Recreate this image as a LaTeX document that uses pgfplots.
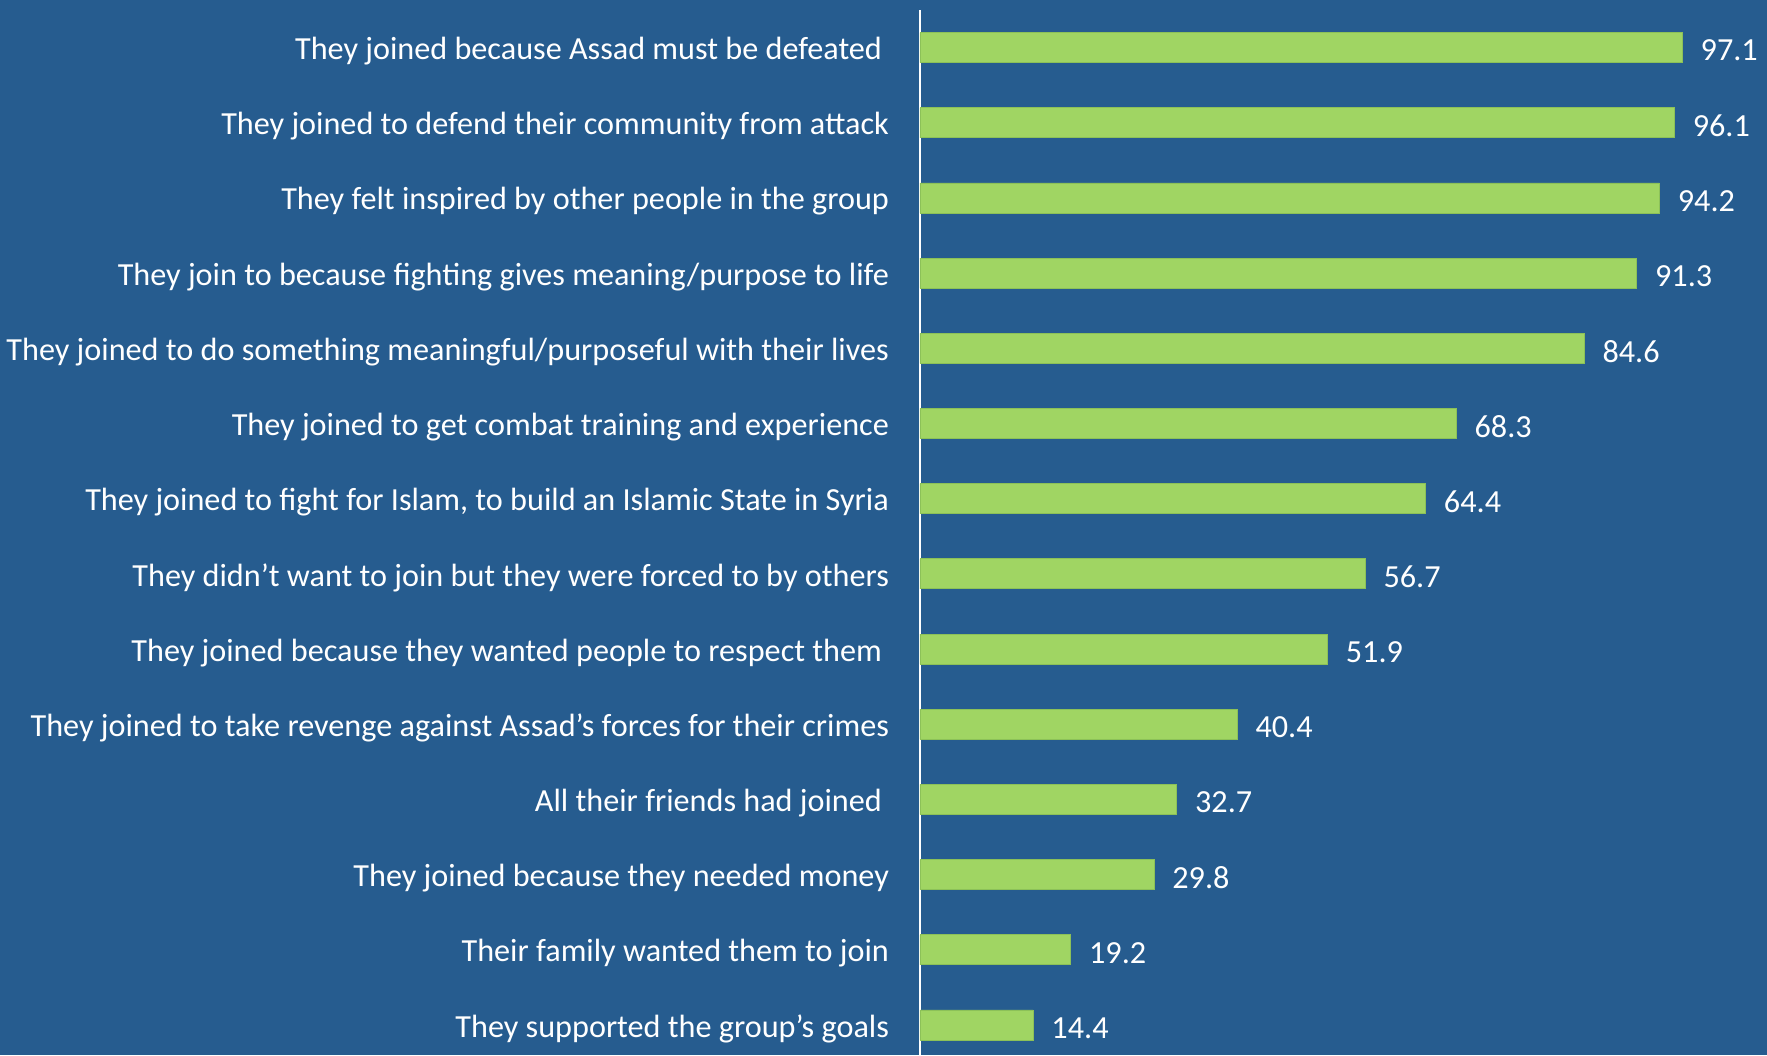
\documentclass[border=0pt]{standalone}
\usepackage{pgfplots}
\pgfplotsset{compat=1.18}
\usepackage{fontspec}
\setmainfont{Carlito}
\usetikzlibrary{backgrounds}
\definecolor{bg}{HTML}{265C8F}
\definecolor{barc}{HTML}{A0D563}
\definecolor{baredge}{HTML}{8CC158}
\begin{document}
\begin{tikzpicture}
\begin{axis}[
  name=ax,
  at={(0,0)}, anchor=south west,
  width=423.5pt, height=522.5pt, scale only axis,
  xbar, bar width=15pt,
  xmin=0, xmax=107.9,
  ymin=-0.5, ymax=13.4,
  y dir=reverse,
  axis x line=none,
  axis y line=left,
  y axis line style={white, line width=1.2pt, -},
  ytick={0,...,13},
  yticklabels={
    {They joined because Assad must be defeated\kern3.5pt},
    {They joined to defend their community from attack},
    {They felt inspired by other people in the group},
    {They join to because fighting gives meaning/purpose to life},
    {They joined to do something meaningful/purposeful with their lives},
    {They joined to get combat training and experience},
    {They joined to fight for Islam, to build an Islamic State in Syria},
    {They didn’t want to join but they were forced to by others},
    {They joined because they wanted people to respect them\kern3.5pt},
    {They joined to take revenge against Assad’s forces for their crimes},
    {All their friends had joined\kern3.5pt},
    {They joined because they needed money},
    {Their family wanted them to join},
    {They supported the group’s goals}},
  yticklabel style={text=white, font=\fontsize{16.1}{19}\selectfont, xshift=-12pt, yshift=-1.8pt},
  major tick length=0pt,
  /pgf/number format/assume math mode=true,
  nodes near coords,
  point meta=x,
  nodes near coords style={text=white, font=\fontsize{16.1}{19}\selectfont, anchor=west, xshift=5.7pt, yshift=-1.5pt,
    /pgf/number format/fixed, /pgf/number format/fixed zerofill, /pgf/number format/precision=1},
  clip=false,
]
\addplot[fill=barc, draw=baredge, line width=0.4pt] coordinates {
 (97.1,0) (96.1,1) (94.2,2) (91.3,3) (84.6,4) (68.3,5) (64.4,6)
 (56.7,7) (51.9,8) (40.4,9) (32.7,10) (29.8,11) (19.2,12) (14.4,13)};
\end{axis}
\begin{scope}[on background layer]
\fill[bg] ([xshift=-460pt]ax.south west) rectangle ([yshift=5pt]ax.north east);
\end{scope}
\pgfresetboundingbox
\path[use as bounding box] ([xshift=-460pt]ax.south west) rectangle ([yshift=5pt]ax.north east);
\end{tikzpicture}
\end{document}
